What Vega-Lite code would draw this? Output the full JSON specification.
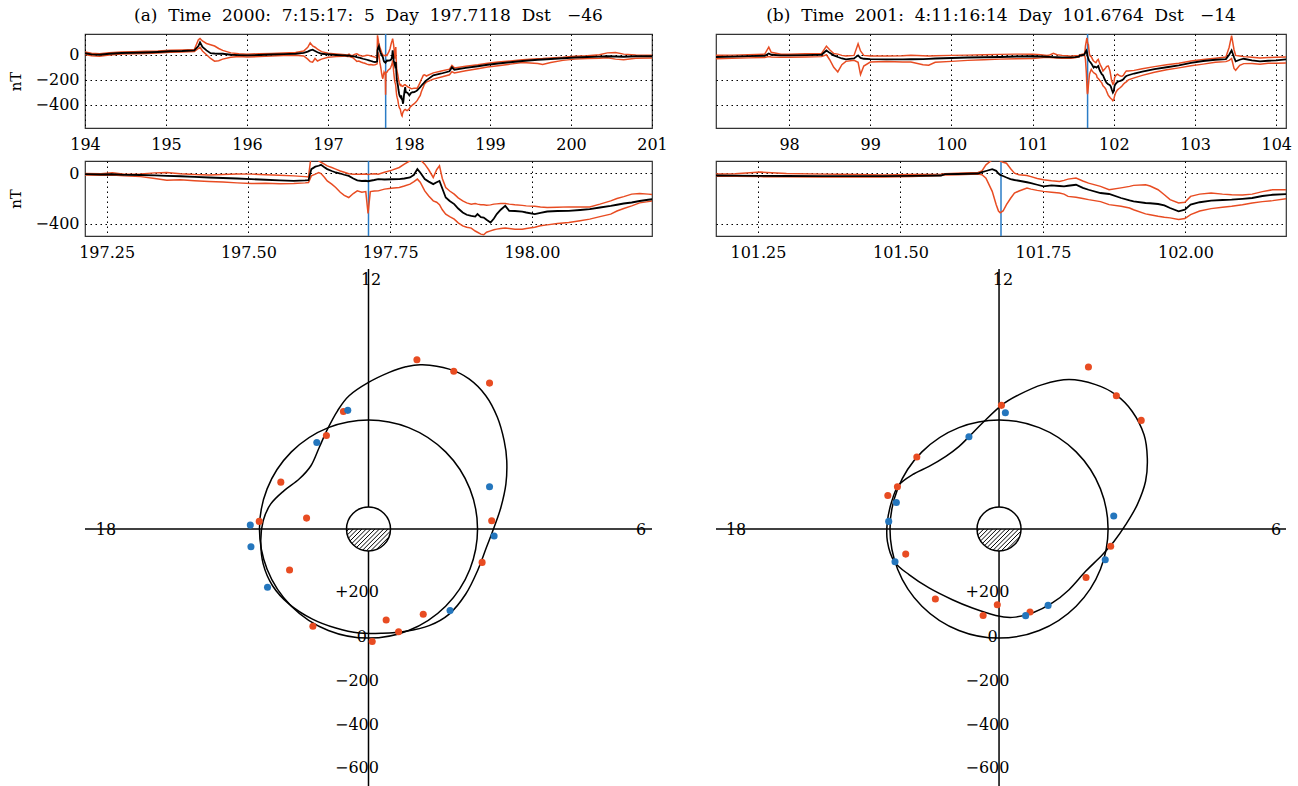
{
"$schema": "https://vega.github.io/schema/vega-lite/v6.json",
"background": "white",
"padding": {"left": 7, "top": 6, "right": 0, "bottom": 0},
"config": {
  "font": "DejaVu Serif",
  "view": {"stroke": "#333", "strokeWidth": 1.2},
  "axis": {"labelFont": "DejaVu Serif", "labelFontSize": 16, "labelColor": "#000", "titleFont": "DejaVu Serif", "titleFontSize": 15, "titleFontWeight": "normal", "titleColor": "#000", "gridColor": "#000", "gridDash": [1.5, 3.5], "gridOpacity": 1, "gridWidth": 1, "domain": false, "ticks": false, "labelFlush": false, "labelOverlap": false},
  "title": {"font": "DejaVu Serif", "fontSize": 17, "fontWeight": "normal", "color": "#000", "offset": 8, "frame": "group", "anchor": "middle"}
},
"datasets": {
  "A": [
    {"d":194.0,"b":12,"u":22,"l":2},{"d":194.08,"b":3,"u":12,"l":-8},{"d":194.18,"b":0,"u":8,"l":-12},{"d":194.3,"b":8,"u":16,"l":-2},{"d":194.45,"b":14,"u":22,"l":5},{"d":194.6,"b":16,"u":25,"l":8},{"d":194.75,"b":18,"u":28,"l":10},{"d":194.9,"b":22,"u":30,"l":14},{"d":195.05,"b":28,"u":36,"l":20},{"d":195.2,"b":30,"u":38,"l":22},{"d":195.35,"b":35,"u":42,"l":26},{"d":195.4,"b":70,"u":120,"l":50},{"d":195.42,"b":100,"u":130,"l":60},{"d":195.45,"b":62,"u":110,"l":30},{"d":195.5,"b":35,"u":90,"l":0},{"d":195.55,"b":13,"u":80,"l":-30},{"d":195.6,"b":10,"u":70,"l":-51},{"d":195.65,"b":8,"u":50,"l":-48},{"d":195.7,"b":8,"u":35,"l":-35},{"d":195.8,"b":0,"u":15,"l":-20},{"d":195.9,"b":-3,"u":8,"l":-15},{"d":196.0,"b":-5,"u":5,"l":-18},{"d":196.15,"b":-2,"u":8,"l":-14},{"d":196.3,"b":2,"u":10,"l":-10},{"d":196.45,"b":5,"u":14,"l":-6},{"d":196.6,"b":8,"u":18,"l":-5},{"d":196.7,"b":15,"u":30,"l":-10},{"d":196.75,"b":25,"u":60,"l":-35},{"d":196.78,"b":35,"u":95,"l":-55},{"d":196.81,"b":40,"u":70,"l":-60},{"d":196.84,"b":30,"u":60,"l":-30},{"d":196.87,"b":20,"u":45,"l":-50},{"d":196.92,"b":8,"u":25,"l":-35},{"d":197.0,"b":3,"u":12,"l":-20},{"d":197.1,"b":-2,"u":6,"l":-15},{"d":197.18,"b":-5,"u":2,"l":-12},
    {"d":197.2105,"b":-5,"u":0,"l":-11},{"d":197.24,"b":-8,"u":-2,"l":-14},{"d":197.26,"b":-6,"u":5,"l":-12},{"d":197.281,"b":-11,"u":-5,"l":-19},{"d":197.31,"b":-12,"u":-3,"l":-25},{"d":197.335,"b":-15,"u":5,"l":-40},{"d":197.356,"b":-19,"u":8,"l":-53},{"d":197.38,"b":-22,"u":-2,"l":-50},{"d":197.405,"b":-27,"u":-8,"l":-58},{"d":197.4305,"b":-32,"u":-11,"l":-64},{"d":197.455,"b":-36,"u":-8,"l":-68},{"d":197.48,"b":-40,"u":-4,"l":-75},{"d":197.505,"b":-45,"u":-5,"l":-80},{"d":197.53,"b":-50,"u":-10,"l":-78},{"d":197.555,"b":-55,"u":-14,"l":-82},{"d":197.58,"b":-59,"u":-19,"l":-80},{"d":197.6,"b":-55,"u":-25,"l":-75},{"d":197.606,"b":-53,"u":-27,"l":-72},{"d":197.611,"b":35,"u":155,"l":-19},{"d":197.618,"b":55,"u":130,"l":-5},{"d":197.624,"b":62,"u":101,"l":8},{"d":197.628,"b":69,"u":90,"l":0},{"d":197.634,"b":50,"u":75,"l":-30},{"d":197.639,"b":35,"u":61,"l":-59},{"d":197.647,"b":20,"u":48,"l":-85},{"d":197.654,"b":8,"u":35,"l":-112},{"d":197.662,"b":0,"u":20,"l":-150},{"d":197.669,"b":-10,"u":10,"l":-175},{"d":197.677,"b":-19,"u":-2,"l":-192},{"d":197.685,"b":-40,"u":-5,"l":-160},{"d":197.692,"b":-55,"u":-5,"l":-139},{"d":197.7,"b":-60,"u":-6,"l":-150},{"d":197.707,"b":-58,"u":-5,"l":-145},{"d":197.711,"b":-62,"u":-8,"l":-320},{"d":197.715,"b":-58,"u":-5,"l":-145},{"d":197.722,"b":-52,"u":-2,"l":-140},{"d":197.729,"b":-45,"u":-5,"l":-139},{"d":197.74,"b":-48,"u":10,"l":-125},{"d":197.752,"b":-46,"u":25,"l":-118},{"d":197.766,"b":-45,"u":48,"l":-112},{"d":197.775,"b":-40,"u":75,"l":-100},{"d":197.785,"b":-32,"u":101,"l":-85},{"d":197.792,"b":-10,"u":115,"l":-65},{"d":197.798,"b":35,"u":128,"l":-45},{"d":197.803,"b":8,"u":110,"l":-70},{"d":197.811,"b":-45,"u":75,"l":-139},{"d":197.818,"b":-65,"u":30,"l":-180},{"d":197.826,"b":-85,"u":-32,"l":-219},{"d":197.832,"b":-70,"u":30,"l":-230},{"d":197.837,"b":-59,"u":61,"l":-250},{"d":197.842,"b":-120,"u":-40,"l":-290},{"d":197.848,"b":-192,"u":-112,"l":-325},{"d":197.855,"b":-220,"u":-140,"l":-345},{"d":197.863,"b":-245,"u":-165,"l":-365},{"d":197.87,"b":-280,"u":-195,"l":-395},{"d":197.878,"b":-312,"u":-219,"l":-419},{"d":197.885,"b":-330,"u":-235,"l":-430},{"d":197.893,"b":-339,"u":-245,"l":-437},{"d":197.9,"b":-345,"u":-240,"l":-460},{"d":197.904,"b":-325,"u":-245,"l":-470},{"d":197.91,"b":-350,"u":-250,"l":-485},{"d":197.915,"b":-352,"u":-250,"l":-490},{"d":197.92,"b":-370,"u":-253,"l":-470},{"d":197.927,"b":-392,"u":-251,"l":-459},{"d":197.933,"b":-360,"u":-245,"l":-450},{"d":197.938,"b":-325,"u":-243,"l":-445},{"d":197.945,"b":-290,"u":-240,"l":-440},{"d":197.953,"b":-259,"u":-240,"l":-437},{"d":197.96,"b":-299,"u":-245,"l":-440},{"d":197.97,"b":-300,"u":-250,"l":-445},{"d":197.983,"b":-305,"u":-255,"l":-445},{"d":197.99,"b":-312,"u":-259,"l":-440},{"d":198.005,"b":-325,"u":-262,"l":-430},{"d":198.015,"b":-315,"u":-268,"l":-418},{"d":198.027,"b":-304,"u":-272,"l":-411},{"d":198.045,"b":-300,"u":-270,"l":-400},{"d":198.065,"b":-299,"u":-267,"l":-392},{"d":198.085,"b":-292,"u":-267,"l":-378},{"d":198.102,"b":-285,"u":-267,"l":-365},{"d":198.12,"b":-272,"u":-245,"l":-345},{"d":198.139,"b":-259,"u":-219,"l":-325},{"d":198.15,"b":-250,"u":-200,"l":-300},{"d":198.162,"b":-240,"u":-185,"l":-280},{"d":198.176,"b":-232,"u":-165,"l":-259},{"d":198.19,"b":-220,"u":-160,"l":-235},{"d":198.205,"b":-210,"u":-165,"l":-225},{"d":198.214,"b":-205,"u":-170,"l":-219},
    {"d":198.3,"b":-165,"u":-145,"l":-195},{"d":198.4,"b":-150,"u":-130,"l":-178},{"d":198.5,"b":-132,"u":-115,"l":-160},{"d":198.53,"b":-100,"u":-85,"l":-135},{"d":198.56,"b":-120,"u":-105,"l":-145},{"d":198.7,"b":-105,"u":-92,"l":-128},{"d":198.85,"b":-92,"u":-80,"l":-112},{"d":198.97,"b":-80,"u":-68,"l":-98},{"d":199.1,"b":-70,"u":-58,"l":-88},{"d":199.25,"b":-60,"u":-50,"l":-75},{"d":199.4,"b":-50,"u":-40,"l":-62},{"d":199.59,"b":-40,"u":-32,"l":-70},{"d":199.65,"b":-38,"u":-30,"l":-78},{"d":199.75,"b":-34,"u":-25,"l":-62},{"d":199.9,"b":-28,"u":-20,"l":-45},{"d":200.05,"b":-22,"u":-12,"l":-35},{"d":200.2,"b":-18,"u":-8,"l":-30},{"d":200.35,"b":-15,"u":0,"l":-28},{"d":200.45,"b":-12,"u":15,"l":-25},{"d":200.55,"b":-14,"u":18,"l":-35},{"d":200.65,"b":-16,"u":5,"l":-40},{"d":200.8,"b":-12,"u":-2,"l":-28},{"d":201.0,"b":-12,"u":-5,"l":-25}
  ],
  "B": [
    {"d":97.1,"b":-18,"u":-5,"l":-32},{"d":97.3,"b":-15,"u":-3,"l":-28},{"d":97.5,"b":-11,"u":0,"l":-25},{"d":97.7,"b":-8,"u":5,"l":-22},{"d":97.75,"b":10,"u":61,"l":-15},{"d":97.78,"b":0,"u":20,"l":-18},{"d":97.9,"b":-5,"u":5,"l":-20},{"d":98.0,"b":-5,"u":5,"l":-20},{"d":98.2,"b":-3,"u":8,"l":-18},{"d":98.4,"b":0,"u":10,"l":-15},{"d":98.46,"b":34,"u":69,"l":0},{"d":98.5,"b":15,"u":40,"l":-40},{"d":98.55,"b":-5,"u":10,"l":-100},{"d":98.6,"b":-18,"u":5,"l":-137},{"d":98.65,"b":-30,"u":-5,"l":-80},{"d":98.7,"b":-37,"u":-10,"l":-53},{"d":98.8,"b":-30,"u":-5,"l":-45},{"d":98.85,"b":-5,"u":87,"l":-60},{"d":98.88,"b":-25,"u":30,"l":-158},{"d":98.92,"b":-32,"u":-5,"l":-90},{"d":99.0,"b":-35,"u":-10,"l":-58},{"d":99.2,"b":-37,"u":-10,"l":-55},{"d":99.4,"b":-37,"u":-8,"l":-58},{"d":99.5,"b":-36,"u":-5,"l":-58},{"d":99.65,"b":-35,"u":-8,"l":-80},{"d":99.72,"b":-33,"u":-10,"l":-84},{"d":99.8,"b":-30,"u":-8,"l":-60},{"d":100.0,"b":-26,"u":-5,"l":-53},{"d":100.2,"b":-22,"u":-3,"l":-45},{"d":100.4,"b":-20,"u":0,"l":-40},{"d":100.6,"b":-18,"u":3,"l":-35},{"d":100.8,"b":-14,"u":5,"l":-32},{"d":101.0,"b":-12,"u":5,"l":-30},{"d":101.1,"b":-14,"u":0,"l":-25},
    {"d":101.176,"b":-16,"u":-5,"l":-21},{"d":101.21,"b":-17,"u":-2,"l":-23},{"d":101.255,"b":-19,"u":11,"l":-25},{"d":101.3,"b":-20,"u":0,"l":-26},{"d":101.363,"b":-21,"u":-5,"l":-27},{"d":101.42,"b":-21,"u":-8,"l":-27},{"d":101.47,"b":-21,"u":-11,"l":-27},{"d":101.52,"b":-19,"u":-8,"l":-24},{"d":101.571,"b":-16,"u":-5,"l":-16},{"d":101.578,"b":-5,"u":-2,"l":-12},{"d":101.6,"b":-4,"u":2,"l":-10},{"d":101.636,"b":0,"u":8,"l":-5},{"d":101.643,"b":11,"u":20,"l":-10},{"d":101.65,"b":20,"u":69,"l":-37},{"d":101.661,"b":34,"u":110,"l":-143},{"d":101.668,"b":21,"u":135,"l":-250},{"d":101.672,"b":0,"u":120,"l":-300},{"d":101.675,"b":-11,"u":100,"l":-315},{"d":101.68,"b":-20,"u":90,"l":-300},{"d":101.686,"b":-32,"u":82,"l":-249},{"d":101.693,"b":-45,"u":40,"l":-200},{"d":101.7,"b":-52,"u":3,"l":-156},{"d":101.708,"b":-58,"u":-10,"l":-140},{"d":101.722,"b":-70,"u":-16,"l":-117},{"d":101.729,"b":-77,"u":-25,"l":-125},{"d":101.74,"b":-90,"u":-40,"l":-135},{"d":101.751,"b":-103,"u":-50,"l":-143},{"d":101.765,"b":-95,"u":-58,"l":-150},{"d":101.779,"b":-100,"u":-64,"l":-156},{"d":101.787,"b":-103,"u":-55,"l":-165},{"d":101.794,"b":-98,"u":-45,"l":-183},{"d":101.808,"b":-90,"u":-37,"l":-190},{"d":101.82,"b":-115,"u":-60,"l":-200},{"d":101.83,"b":-130,"u":-77,"l":-209},{"d":101.851,"b":-156,"u":-103,"l":-225},{"d":101.866,"b":-164,"u":-130,"l":-249},{"d":101.887,"b":-196,"u":-115,"l":-262},{"d":101.902,"b":-215,"u":-103,"l":-276},{"d":101.909,"b":-223,"u":-95,"l":-290},{"d":101.93,"b":-236,"u":-90,"l":-323},{"d":101.938,"b":-238,"u":-100,"l":-330},{"d":101.952,"b":-244,"u":-130,"l":-342},{"d":101.963,"b":-255,"u":-170,"l":-350},{"d":101.973,"b":-276,"u":-209,"l":-355},{"d":101.988,"b":-302,"u":-236,"l":-368},{"d":101.999,"b":-289,"u":-230,"l":-360},{"d":102.009,"b":-249,"u":-183,"l":-329},{"d":102.025,"b":-230,"u":-165,"l":-300},{"d":102.045,"b":-217,"u":-156,"l":-281},{"d":102.065,"b":-212,"u":-165,"l":-270},{"d":102.081,"b":-209,"u":-170,"l":-262},{"d":102.1,"b":-203,"u":-172,"l":-250},{"d":102.117,"b":-196,"u":-165,"l":-236},{"d":102.135,"b":-180,"u":-145,"l":-225},{"d":102.153,"b":-170,"u":-130,"l":-217},{"d":102.178,"b":-164,"u":-130,"l":-201},
    {"d":102.25,"b":-150,"u":-125,"l":-185},{"d":102.35,"b":-135,"u":-112,"l":-165},{"d":102.5,"b":-115,"u":-95,"l":-140},{"d":102.65,"b":-100,"u":-80,"l":-120},{"d":102.8,"b":-85,"u":-68,"l":-105},{"d":102.95,"b":-65,"u":-50,"l":-88},{"d":103.1,"b":-50,"u":-38,"l":-75},{"d":103.25,"b":-40,"u":-28,"l":-60},{"d":103.38,"b":-35,"u":-18,"l":-55},{"d":103.42,"b":0,"u":60,"l":-45},{"d":103.45,"b":35,"u":153,"l":-30},{"d":103.48,"b":-20,"u":40,"l":-110},{"d":103.5,"b":-53,"u":-5,"l":-124},{"d":103.55,"b":-40,"u":-10,"l":-85},{"d":103.6,"b":-32,"u":-15,"l":-71},{"d":103.7,"b":-45,"u":-20,"l":-70},{"d":103.8,"b":-53,"u":-25,"l":-75},{"d":103.9,"b":-48,"u":-22,"l":-68},{"d":104.0,"b":-45,"u":-20,"l":-68},{"d":104.12,"b":-37,"u":-18,"l":-66}
  ],
  "lobeA": [
    {"i":1,"x":0,"y":672},{"i":2,"x":95,"y":718},{"i":3,"x":171,"y":744},{"i":4,"x":247,"y":753},{"i":5,"x":370,"y":733},{"i":6,"x":461,"y":688},{"i":7,"x":538,"y":611},{"i":8,"x":591,"y":512},{"i":9,"x":622,"y":405},{"i":10,"x":634,"y":313},{"i":11,"x":630,"y":206},{"i":12,"x":607,"y":99},{"i":13,"x":576,"y":8},{"i":14,"x":541,"y":-84},{"i":15,"x":500,"y":-191},{"i":16,"x":446,"y":-298},{"i":17,"x":370,"y":-390},{"i":18,"x":278,"y":-443},{"i":19,"x":171,"y":-469},{"i":20,"x":64,"y":-478},{"i":21,"x":-43,"y":-477},{"i":22,"x":-150,"y":-454},{"i":23,"x":-257,"y":-413},{"i":24,"x":-364,"y":-344},{"i":25,"x":-440,"y":-260},{"i":26,"x":-483,"y":-160},{"i":27,"x":-494,"y":-53},{"i":28,"x":-483,"y":38},{"i":29,"x":-448,"y":115},{"i":30,"x":-387,"y":176},{"i":31,"x":-318,"y":229},{"i":32,"x":-264,"y":290},{"i":33,"x":-226,"y":374},{"i":34,"x":-188,"y":458},{"i":35,"x":-142,"y":542},{"i":36,"x":-89,"y":611}
  ],
  "lobeB": [
    {"i":1,"x":11,"y":567},{"i":2,"x":92,"y":616},{"i":3,"x":199,"y":662},{"i":4,"x":321,"y":685},{"i":5,"x":443,"y":662},{"i":6,"x":535,"y":616},{"i":7,"x":611,"y":539},{"i":8,"x":665,"y":432},{"i":9,"x":680,"y":325},{"i":10,"x":672,"y":219},{"i":11,"x":634,"y":112},{"i":12,"x":581,"y":20},{"i":13,"x":527,"y":-57},{"i":14,"x":474,"y":-118},{"i":15,"x":397,"y":-194},{"i":16,"x":321,"y":-278},{"i":17,"x":244,"y":-339},{"i":18,"x":153,"y":-385},{"i":19,"x":61,"y":-405},{"i":20,"x":-15,"y":-396},{"i":21,"x":-122,"y":-362},{"i":22,"x":-214,"y":-324},{"i":23,"x":-321,"y":-270},{"i":24,"x":-413,"y":-209},{"i":25,"x":-481,"y":-148},{"i":26,"x":-512,"y":-57},{"i":27,"x":-512,"y":35},{"i":28,"x":-492,"y":127},{"i":29,"x":-461,"y":200},{"i":30,"x":-397,"y":249},{"i":31,"x":-321,"y":287},{"i":32,"x":-244,"y":333},{"i":33,"x":-183,"y":379},{"i":34,"x":-138,"y":423},{"i":35,"x":-76,"y":486}
  ],
  "dotsA": [
    {"x":222,"y":776,"c":"red"},{"x":391,"y":723,"c":"red"},{"x":555,"y":669,"c":"red"},{"x":-115,"y":539,"c":"red"},{"x":-193,"y":429,"c":"red"},{"x":-402,"y":215,"c":"red"},{"x":-284,"y":50,"c":"red"},{"x":-501,"y":35,"c":"red"},{"x":565,"y":38,"c":"red"},{"x":521,"y":-153,"c":"red"},{"x":-362,"y":-188,"c":"red"},{"x":-255,"y":-446,"c":"red"},{"x":81,"y":-417,"c":"red"},{"x":251,"y":-391,"c":"red"},{"x":138,"y":-471,"c":"red"},{"x":17,"y":-516,"c":"red"},
    {"x":-95,"y":544,"c":"blue"},{"x":-237,"y":397,"c":"blue"},{"x":555,"y":194,"c":"blue"},{"x":-542,"y":18,"c":"blue"},{"x":-539,"y":-81,"c":"blue"},{"x":576,"y":-32,"c":"blue"},{"x":-463,"y":-267,"c":"blue"},{"x":374,"y":-374,"c":"blue"}
  ],
  "dotsB": [
    {"x":410,"y":743,"c":"red"},{"x":538,"y":611,"c":"red"},{"x":652,"y":498,"c":"red"},{"x":11,"y":567,"c":"red"},{"x":-377,"y":330,"c":"red"},{"x":-466,"y":194,"c":"red"},{"x":-510,"y":154,"c":"red"},{"x":-428,"y":-115,"c":"red"},{"x":512,"y":-79,"c":"red"},{"x":399,"y":-222,"c":"red"},{"x":-292,"y":-321,"c":"red"},{"x":-73,"y":-396,"c":"red"},{"x":-8,"y":-347,"c":"red"},{"x":142,"y":-380,"c":"red"},
    {"x":29,"y":533,"c":"blue"},{"x":-138,"y":423,"c":"blue"},{"x":-471,"y":122,"c":"blue"},{"x":-506,"y":35,"c":"blue"},{"x":526,"y":60,"c":"blue"},{"x":-477,"y":-150,"c":"blue"},{"x":487,"y":-141,"c":"blue"},{"x":225,"y":-350,"c":"blue"},{"x":122,"y":-397,"c":"blue"}
  ],
  "hatch": [
    {"x":-99.55,"y":-9.55,"x2":-90,"y2":0},{"x":-96.4,"y":-26.4,"x2":-70,"y2":0},{"x":-91.1,"y":-41.1,"x2":-50,"y2":0},{"x":-84.1,"y":-54.1,"x2":-30,"y2":0},{"x":-75.5,"y":-65.5,"x2":-10,"y2":0},{"x":-65.5,"y":-75.5,"x2":10,"y2":0},{"x":-54.1,"y":-84.1,"x2":30,"y2":0},{"x":-41.1,"y":-91.1,"x2":50,"y2":0},{"x":-26.4,"y":-96.4,"x2":70,"y2":0},{"x":-9.55,"y":-99.55,"x2":90,"y2":0},{"x":10.55,"y":-99.45,"x2":99.45,"y2":-10.55},{"x":37.15,"y":-92.85,"x2":92.85,"y2":-37.15}
  ],
  "labelsA": [
    {"x":12,"y":1142,"t":"12"},{"x":-1204,"y":-5,"t":"18"},{"x":1250,"y":-5,"t":"6"},{"x":-53,"y":-290,"t":"+200"},{"x":-30,"y":-495,"t":"0"},{"x":-53,"y":-697,"t":"−200"},{"x":-53,"y":-899,"t":"−400"},{"x":-53,"y":-1096,"t":"−600"}
  ],
  "labelsB": [
    {"x":18,"y":1142,"t":"12"},{"x":-1206,"y":-5,"t":"18"},{"x":1270,"y":-5,"t":"6"},{"x":-53,"y":-290,"t":"+200"},{"x":-30,"y":-495,"t":"0"},{"x":-53,"y":-697,"t":"−200"},{"x":-53,"y":-899,"t":"−400"},{"x":-53,"y":-1096,"t":"−600"}
  ],
  "origin": [{"x":0,"y":0}]
},
"columns": 2,
"align": "each",
"bounds": "flush",
"spacing": {"row": 33, "column": 64},
"concat": [
  {
    "width": 567, "height": 94,
    "title": {"text": "(a) \u00a0Time \u00a02000: \u00a07:15:17: \u00a05 \u00a0Day \u00a0197.7118 \u00a0Dst \u00a0\u00a0−46"},
    "data": {"name": "A"},
    "encoding": {"x": {"field": "d", "type": "quantitative", "scale": {"domain": [194, 201], "nice": false, "zero": false}, "axis": {"values": [194,195,196,197,198,199,200,201], "format": "d", "title": null, "grid": true, "labelPadding": 8}}},
    "layer": [
      {"data": {"values": [{"t": 197.7118}]}, "mark": {"type": "rule", "color": "#2b7cc6", "strokeWidth": 1.5}, "encoding": {"x": {"field": "t", "type": "quantitative"}}},
      {"mark": {"type": "line", "color": "#e84c22", "strokeWidth": 1.5, "clip": true}, "encoding": {"y": {"field": "u", "type": "quantitative", "scale": {"domain": [-586, 166], "nice": false, "zero": false}, "axis": {"values": [0,-200,-400], "title": "nT", "grid": true, "labelPadding": 6, "titlePadding": 12}}}},
      {"mark": {"type": "line", "color": "#e84c22", "strokeWidth": 1.5, "clip": true}, "encoding": {"y": {"field": "l", "type": "quantitative"}}},
      {"mark": {"type": "line", "color": "#000", "strokeWidth": 1.8, "clip": true}, "encoding": {"y": {"field": "b", "type": "quantitative"}}}
    ]
  },
  {
    "width": 570, "height": 94,
    "title": {"text": "(b) \u00a0Time \u00a02001: \u00a04:11:16:14 \u00a0Day \u00a0101.6764 \u00a0Dst \u00a0\u00a0−14"},
    "data": {"name": "B"},
    "encoding": {"x": {"field": "d", "type": "quantitative", "scale": {"domain": [97.1, 104.12], "nice": false, "zero": false}, "axis": {"values": [98,99,100,101,102,103,104], "format": "d", "title": null, "grid": true, "labelPadding": 8}}},
    "layer": [
      {"data": {"values": [{"t": 101.6764}]}, "mark": {"type": "rule", "color": "#2b7cc6", "strokeWidth": 1.5}, "encoding": {"x": {"field": "t", "type": "quantitative"}}},
      {"mark": {"type": "line", "color": "#e84c22", "strokeWidth": 1.5, "clip": true}, "encoding": {"y": {"field": "u", "type": "quantitative", "scale": {"domain": [-586, 166], "nice": false, "zero": false}, "axis": {"values": [0,-200,-400], "title": null, "labels": false, "grid": true}}}},
      {"mark": {"type": "line", "color": "#e84c22", "strokeWidth": 1.5, "clip": true}, "encoding": {"y": {"field": "l", "type": "quantitative"}}},
      {"mark": {"type": "line", "color": "#000", "strokeWidth": 1.8, "clip": true}, "encoding": {"y": {"field": "b", "type": "quantitative"}}}
    ]
  },
  {
    "width": 567, "height": 75,
    "data": {"name": "A"},
    "encoding": {"x": {"field": "d", "type": "quantitative", "scale": {"domain": [197.2118, 198.2118], "nice": false, "zero": false}, "axis": {"values": [197.25,197.5,197.75,198.0], "format": ".2f", "title": null, "grid": true, "labelPadding": 8}}},
    "layer": [
      {"data": {"values": [{"t": 197.7118}]}, "mark": {"type": "rule", "color": "#2b7cc6", "strokeWidth": 1.5}, "encoding": {"x": {"field": "t", "type": "quantitative"}}},
      {"mark": {"type": "line", "color": "#e84c22", "strokeWidth": 1.5, "clip": true}, "encoding": {"y": {"field": "u", "type": "quantitative", "scale": {"domain": [-500, 100], "nice": false, "zero": false}, "axis": {"values": [0,-200,-400], "title": "nT", "grid": true, "labelPadding": 6, "titlePadding": 12}}}},
      {"mark": {"type": "line", "color": "#e84c22", "strokeWidth": 1.5, "clip": true}, "encoding": {"y": {"field": "l", "type": "quantitative"}}},
      {"mark": {"type": "line", "color": "#000", "strokeWidth": 1.8, "clip": true}, "encoding": {"y": {"field": "b", "type": "quantitative"}}}
    ]
  },
  {
    "width": 570, "height": 75,
    "data": {"name": "B"},
    "encoding": {"x": {"field": "d", "type": "quantitative", "scale": {"domain": [101.1764, 102.1764], "nice": false, "zero": false}, "axis": {"values": [101.25,101.5,101.75,102.0], "format": ".2f", "title": null, "grid": true, "labelPadding": 8}}},
    "layer": [
      {"data": {"values": [{"t": 101.6764}]}, "mark": {"type": "rule", "color": "#2b7cc6", "strokeWidth": 1.5}, "encoding": {"x": {"field": "t", "type": "quantitative"}}},
      {"mark": {"type": "line", "color": "#e84c22", "strokeWidth": 1.5, "clip": true}, "encoding": {"y": {"field": "u", "type": "quantitative", "scale": {"domain": [-500, 100], "nice": false, "zero": false}, "axis": {"values": [0,-200,-400], "title": null, "labels": false, "grid": true}}}},
      {"mark": {"type": "line", "color": "#e84c22", "strokeWidth": 1.5, "clip": true}, "encoding": {"y": {"field": "l", "type": "quantitative"}}},
      {"mark": {"type": "line", "color": "#000", "strokeWidth": 1.8, "clip": true}, "encoding": {"y": {"field": "b", "type": "quantitative"}}}
    ]
  },
  {
    "width": 567, "height": 517,
    "view": {"stroke": null},
    "layer": [
      {"data": {"name": "origin"}, "mark": {"type": "rule", "color": "#000", "strokeWidth": 1.5}, "encoding": {"x": {"field": "x", "type": "quantitative", "scale": {"domain": [-1300, 1300], "nice": false, "zero": false}, "axis": null}}},
      {"data": {"name": "origin"}, "mark": {"type": "point", "shape": "circle", "filled": true, "fill": "white", "stroke": "#000", "strokeWidth": 1.5, "size": 1936, "opacity": 1}, "encoding": {"x": {"field": "x", "type": "quantitative", "scale": {"domain": [-1300, 1300], "nice": false, "zero": false}, "axis": null}, "y": {"field": "y", "type": "quantitative", "scale": {"domain": [-1178, 1192], "nice": false, "zero": false}, "axis": null}}},
      {"data": {"name": "origin"}, "mark": {"type": "rule", "color": "#000", "strokeWidth": 1.5}, "encoding": {"y": {"field": "y", "type": "quantitative", "scale": {"domain": [-1178, 1192], "nice": false, "zero": false}, "axis": null}}},
      {"data": {"name": "hatch"}, "mark": {"type": "rule", "color": "#000", "strokeWidth": 1}, "encoding": {"x": {"field": "x", "type": "quantitative"}, "y": {"field": "y", "type": "quantitative"}, "x2": {"field": "x2"}, "y2": {"field": "y2"}}},
      {"data": {"name": "origin"}, "mark": {"type": "point", "shape": "circle", "filled": false, "stroke": "#000", "strokeWidth": 1.5, "size": 47568, "opacity": 1}, "encoding": {"x": {"field": "x", "type": "quantitative"}, "y": {"field": "y", "type": "quantitative"}}},
      {"data": {"name": "lobeA"}, "mark": {"type": "line", "color": "#000", "strokeWidth": 1.5, "interpolate": "cardinal-closed"}, "encoding": {"x": {"field": "x", "type": "quantitative"}, "y": {"field": "y", "type": "quantitative"}, "order": {"field": "i", "type": "quantitative"}}},
      {"data": {"name": "dotsA"}, "mark": {"type": "circle", "size": 50, "opacity": 1}, "encoding": {"x": {"field": "x", "type": "quantitative"}, "y": {"field": "y", "type": "quantitative"}, "color": {"field": "c", "type": "nominal", "scale": {"domain": ["red", "blue"], "range": ["#e84c22", "#2476bd"]}, "legend": null}}},
      {"data": {"name": "labelsA"}, "mark": {"type": "text", "font": "DejaVu Serif", "fontSize": 16, "align": "center", "baseline": "middle", "color": "#000"}, "encoding": {"x": {"field": "x", "type": "quantitative"}, "y": {"field": "y", "type": "quantitative"}, "text": {"field": "t"}}},
      {"mark": {"type": "rule", "color": "#8b4a3a", "strokeWidth": 1.5}, "encoding": {"x": {"datum": -1300, "type": "quantitative"}}},
      {"mark": {"type": "rule", "color": "#7d5a50", "strokeWidth": 1.5}, "encoding": {"x": {"datum": 1300, "type": "quantitative"}}},
      {"mark": {"type": "rule", "color": "#000", "strokeWidth": 1.5}, "encoding": {"y": {"datum": 1192, "type": "quantitative"}}}
    ]
  },
  {
    "width": 570, "height": 517,
    "view": {"stroke": null},
    "layer": [
      {"data": {"name": "origin"}, "mark": {"type": "rule", "color": "#000", "strokeWidth": 1.5}, "encoding": {"x": {"field": "x", "type": "quantitative", "scale": {"domain": [-1298, 1316], "nice": false, "zero": false}, "axis": null}}},
      {"data": {"name": "origin"}, "mark": {"type": "point", "shape": "circle", "filled": true, "fill": "white", "stroke": "#000", "strokeWidth": 1.5, "size": 1936, "opacity": 1}, "encoding": {"x": {"field": "x", "type": "quantitative", "scale": {"domain": [-1298, 1316], "nice": false, "zero": false}, "axis": null}, "y": {"field": "y", "type": "quantitative", "scale": {"domain": [-1178, 1192], "nice": false, "zero": false}, "axis": null}}},
      {"data": {"name": "origin"}, "mark": {"type": "rule", "color": "#000", "strokeWidth": 1.5}, "encoding": {"y": {"field": "y", "type": "quantitative", "scale": {"domain": [-1178, 1192], "nice": false, "zero": false}, "axis": null}}},
      {"data": {"name": "hatch"}, "mark": {"type": "rule", "color": "#000", "strokeWidth": 1}, "encoding": {"x": {"field": "x", "type": "quantitative"}, "y": {"field": "y", "type": "quantitative"}, "x2": {"field": "x2"}, "y2": {"field": "y2"}}},
      {"data": {"name": "origin"}, "mark": {"type": "point", "shape": "circle", "filled": false, "stroke": "#000", "strokeWidth": 1.5, "size": 47568, "opacity": 1}, "encoding": {"x": {"field": "x", "type": "quantitative"}, "y": {"field": "y", "type": "quantitative"}}},
      {"data": {"name": "lobeB"}, "mark": {"type": "line", "color": "#000", "strokeWidth": 1.5, "interpolate": "cardinal-closed"}, "encoding": {"x": {"field": "x", "type": "quantitative"}, "y": {"field": "y", "type": "quantitative"}, "order": {"field": "i", "type": "quantitative"}}},
      {"data": {"name": "dotsB"}, "mark": {"type": "circle", "size": 50, "opacity": 1}, "encoding": {"x": {"field": "x", "type": "quantitative"}, "y": {"field": "y", "type": "quantitative"}, "color": {"field": "c", "type": "nominal", "scale": {"domain": ["red", "blue"], "range": ["#e84c22", "#2476bd"]}, "legend": null}}},
      {"data": {"name": "labelsB"}, "mark": {"type": "text", "font": "DejaVu Serif", "fontSize": 16, "align": "center", "baseline": "middle", "color": "#000"}, "encoding": {"x": {"field": "x", "type": "quantitative"}, "y": {"field": "y", "type": "quantitative"}, "text": {"field": "t"}}},
      {"mark": {"type": "rule", "color": "#8b4a3a", "strokeWidth": 1.5}, "encoding": {"x": {"datum": -1298, "type": "quantitative"}}},
      {"mark": {"type": "rule", "color": "#8b4a3a", "strokeWidth": 1.5}, "encoding": {"x": {"datum": 1316, "type": "quantitative"}}},
      {"mark": {"type": "rule", "color": "#8b4a3a", "strokeWidth": 1.5}, "encoding": {"y": {"datum": 1192, "type": "quantitative"}}}
    ]
  }
]
}
